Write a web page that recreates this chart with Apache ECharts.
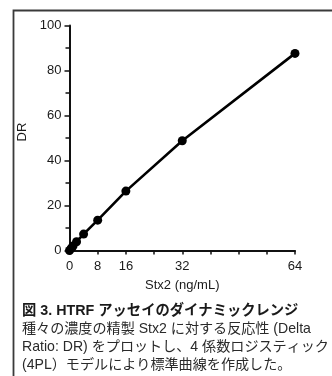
<!DOCTYPE html>
<html><head><meta charset="utf-8">
<script src="https://cdn.jsdelivr.net/npm/echarts@6/dist/echarts.min.js"></script>
<style>html,body{margin:0;padding:0;background:#fff;}#c{width:332px;height:376px;}</style>
</head><body><div id="c"></div>
<script>
const concentrations = [0, 0.5, 1, 2, 4, 8, 16, 32, 64];
const deltaRatio = [0, 1.0, 2.0, 3.9, 7.3, 13.5, 26.4, 48.8, 87.6];
const xTickLabels = [0, 8, 16, 32, 64];
const xAxisName = 'Stx2 (ng/mL)';
const yAxisName = 'DR';
const captionTitle = '図 3. HTRF アッセイのダイナミックレンジ';
const captionLines = [
  '種々の濃度の精製 Stx2 に対する反応性 (Delta',
  'Ratio: DR) をプロットし、4 係数ロジスティック',
  '(4PL）モデルにより標準曲線を作成した。'
];

const FONT = '"Liberation Sans", Arial, "Noto Sans CJK JP", sans-serif';
const chart = echarts.init(document.getElementById('c'), null, {renderer: 'canvas'});
const graphics = [
  {type: 'rect', shape: {x: 13.5, y: 10.5, width: 400, height: 400},
   style: {fill: 'none', stroke: '#3a3a3a', lineWidth: 1.8}, silent: true},
  {type: 'text', left: 22, top: 304,
   style: {text: captionTitle, font: 'bold 14.3px ' + FONT, fill: '#1a1a1a'}}
];
captionLines.forEach((t, i) => {
  graphics.push({type: 'text', left: 22, top: 322 + i * 18,
    style: {text: t, font: '14.1px ' + FONT, fill: '#2a2a2a'}});
});

chart.setOption({
  animation: false,
  backgroundColor: '#fff',
  textStyle: {fontFamily: FONT},
  grid: {left: 69.5, right: 37, top: 25.5, bottom: 125.5, containLabel: false},
  xAxis: {
    type: 'value', min: 0, max: 64, interval: 8,
    name: xAxisName, nameLocation: 'middle', nameGap: 28,
    nameTextStyle: {fontSize: 13, color: '#1a1a1a', fontFamily: FONT},
    axisLine: {lineStyle: {color: '#111', width: 2}},
    axisTick: {show: true, length: 4, lineStyle: {color: '#111', width: 1.5}},
    axisLabel: {fontSize: 13, color: '#1a1a1a', margin: 9, fontFamily: FONT,
      formatter: v => xTickLabels.indexOf(v) >= 0 ? String(v) : ''},
    splitLine: {show: false}
  },
  yAxis: {
    type: 'value', min: 0, max: 100, interval: 20,
    name: yAxisName, nameLocation: 'middle', nameGap: 36, nameRotate: 90,
    nameTextStyle: {fontSize: 13, color: '#1a1a1a', fontFamily: FONT, padding: [0, 0, 0, 12]},
    axisLine: {lineStyle: {color: '#111', width: 2}},
    axisTick: {show: true, length: 5, lineStyle: {color: '#111', width: 1.5}},
    minorTick: {show: true, splitNumber: 2, length: 4, lineStyle: {color: '#111', width: 1.5}},
    axisLabel: {fontSize: 13, color: '#1a1a1a', margin: 8, fontFamily: FONT},
    splitLine: {show: false}
  },
  series: [{
    type: 'line',
    data: concentrations.map((c, i) => [c, deltaRatio[i]]),
    symbol: 'circle', symbolSize: 9,
    lineStyle: {color: '#000', width: 2.6},
    itemStyle: {color: '#000'},
    clip: false
  }],
  graphic: graphics
});
</script></body></html>
